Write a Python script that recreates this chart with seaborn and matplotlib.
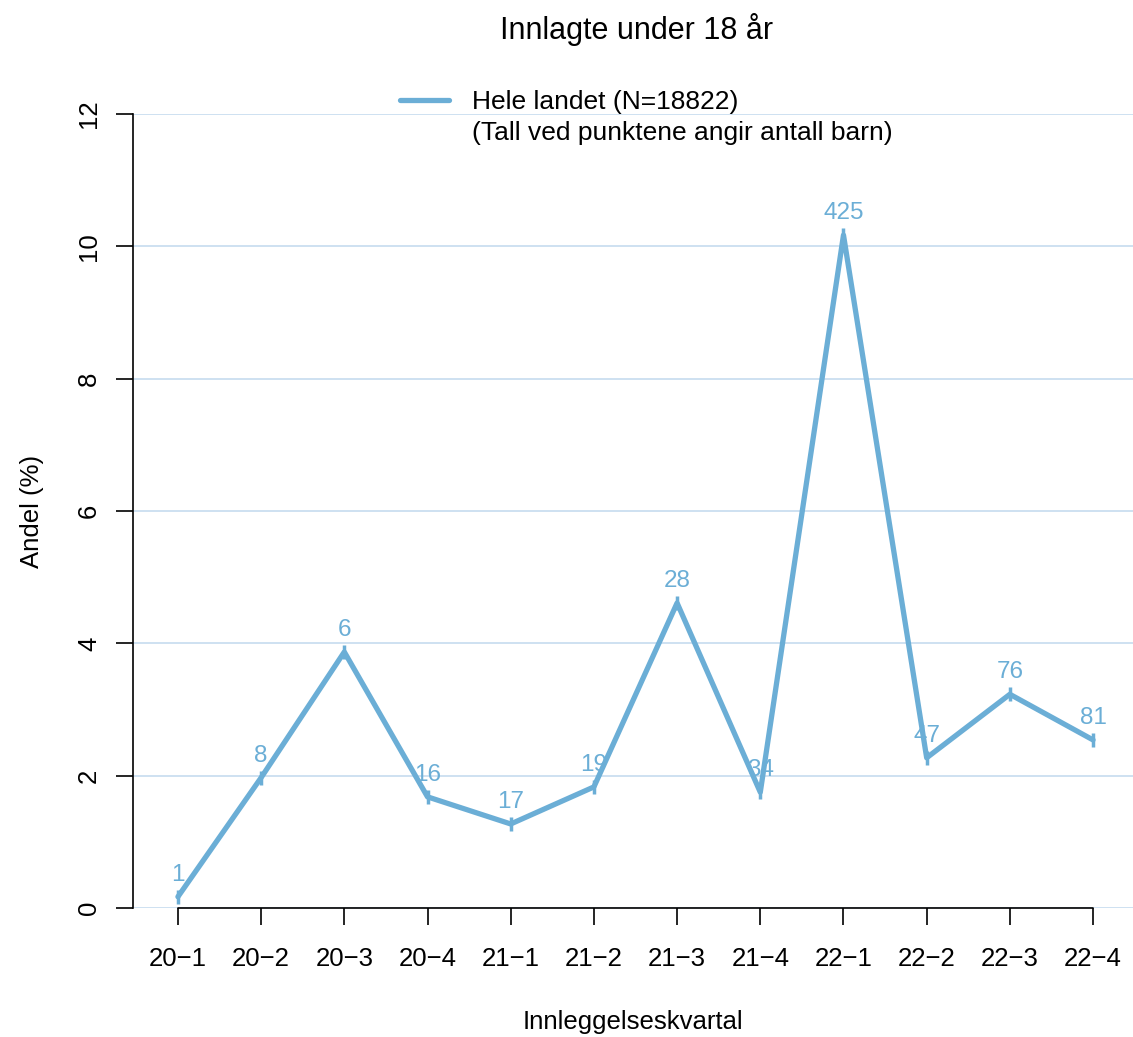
import pandas as pd
import matplotlib
matplotlib.use("Agg")
import matplotlib.pyplot as plt
import seaborn as sns
from matplotlib.lines import Line2D

# data
quarters = ["20\u22121", "20\u22122", "20\u22123", "20\u22124",
            "21\u22121", "21\u22122", "21\u22123", "21\u22124",
            "22\u22121", "22\u22122", "22\u22123", "22\u22124"]
share = [0.17, 1.97, 3.87, 1.68, 1.27, 1.83, 4.61, 1.75, 10.17, 2.27, 3.23, 2.54]
counts = [1, 8, 6, 16, 17, 19, 28, 34, 425, 47, 76, 81]
yticks = [0, 2, 4, 6, 8, 10, 12]

line_color = "#6BAED6"
grid_color = "#C6DBEF"

sns.set_theme(style="white")
plt.rcParams["font.family"] = ["Liberation Sans", "DejaVu Sans"]
plt.rcParams["text.color"] = "black"
plt.rcParams["axes.labelcolor"] = "black"
plt.rcParams["xtick.color"] = "black"
plt.rcParams["ytick.color"] = "black"

df = pd.DataFrame({"kvartal": quarters, "andel": share, "n": counts})
df["pos"] = range(len(df))

fig = plt.figure(figsize=(11.33, 10.37), dpi=100)
ax = fig.add_axes([133 / 1133, (1037 - 908) / 1037, 1 - 133 / 1133, (908 - 114) / 1037])

for yv in yticks:
    ax.axhline(yv, color=grid_color, lw=1.2, zorder=0)

sns.lineplot(data=df, x="pos", y="andel", sort=False, color=line_color,
             lw=3.8, marker="|", markersize=10, markeredgewidth=2.5,
             markeredgecolor=line_color, ax=ax, zorder=3)

for _, r in df.iterrows():
    ax.annotate(str(r["n"]), (r["pos"], r["andel"]), xytext=(0, 8),
                textcoords="offset points", ha="center", va="bottom",
                color=line_color, fontsize=17.5)

ax.set_xlim(-0.54, 11.48)
ax.set_ylim(0, 12)
ax.set_xticks(df["pos"])
ax.set_xticklabels(quarters, fontsize=18.5)
ax.set_yticks(yticks)
ax.set_yticklabels([str(v) for v in yticks], fontsize=18.5, rotation=90, va="center")
ax.tick_params(axis="both", direction="out", length=12, width=1.2, color="black",
               bottom=True, left=True, pad=16)
ax.tick_params(axis="y", pad=11)

for side in ["top", "right", "bottom"]:
    ax.spines[side].set_visible(False)
ax.spines["left"].set_color("black")
ax.spines["left"].set_linewidth(1.2)
ax.plot([0, 11], [0, 0], color="black", lw=1.2, clip_on=False, zorder=4)

ax.set_xlabel("Innleggelseskvartal", fontsize=18.5, labelpad=28)
ax.set_ylabel("Andel (%)", fontsize=18.5, labelpad=24)
fig.text(0.5615, 1 - 30 / 1037, "Innlagte under 18 \u00e5r", ha="center", va="center", fontsize=22)

handles = [Line2D([], [], color=line_color, lw=3.8), Line2D([], [], color="none")]
fig.legend(handles, ["Hele landet (N=18822)", "(Tall ved punktene angir antall barn)"],
           loc="upper left", bbox_to_anchor=(376 / 1133, 1 - 66 / 1037),
           frameon=False, fontsize=19, handlelength=1.85, handletextpad=0.9,
           labelspacing=0.28)

fig.savefig("out.png", dpi=100)
